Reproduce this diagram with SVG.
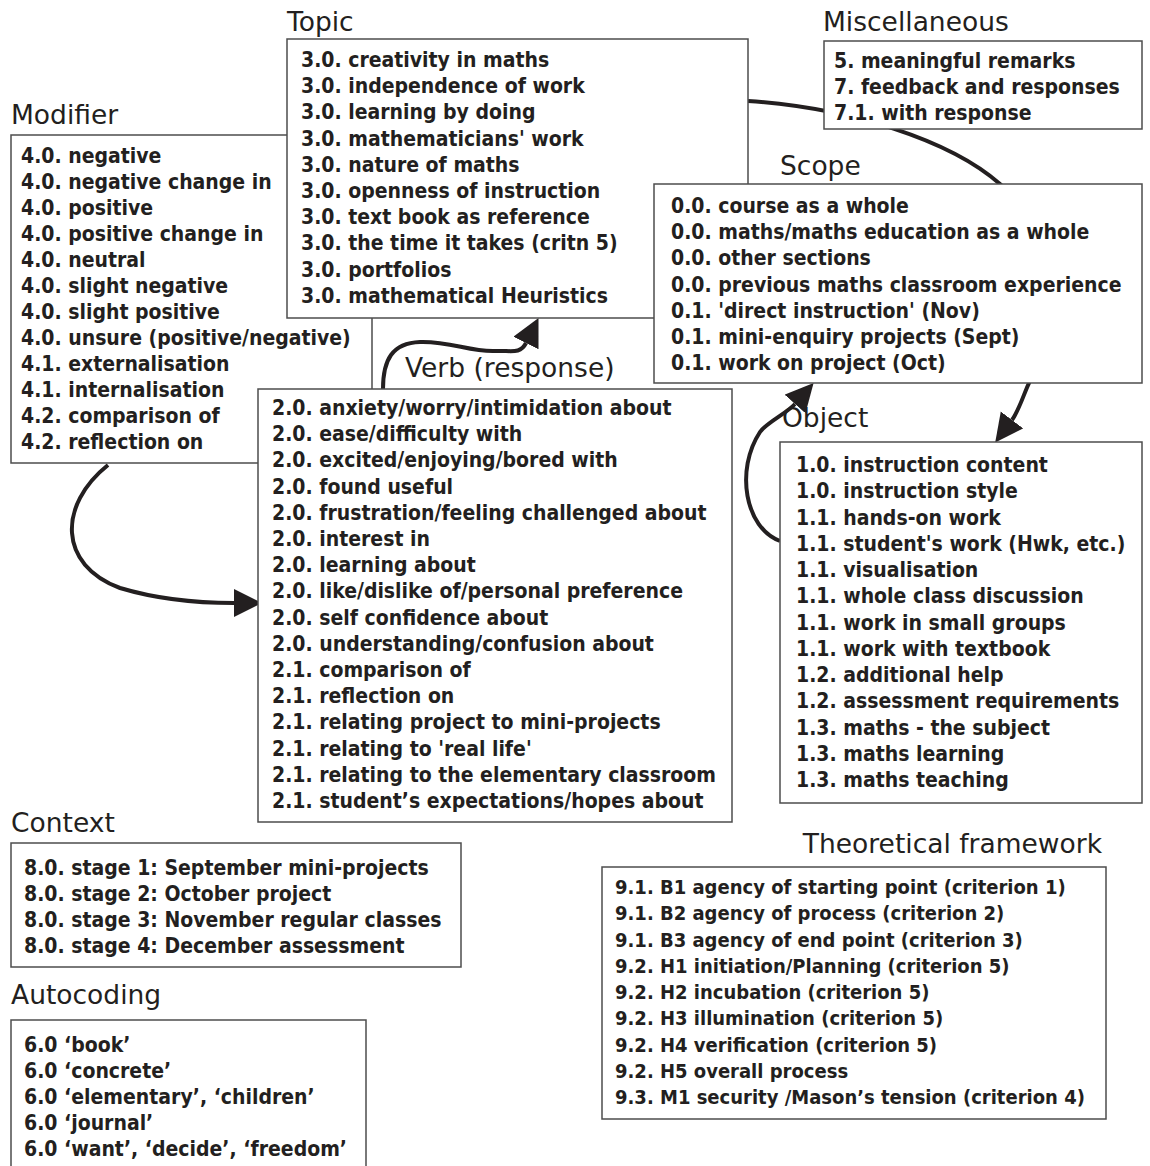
<svg xmlns="http://www.w3.org/2000/svg" width="1150" height="1166" viewBox="0 0 1150 1166">
<defs>
<style>
.box{fill:#fff;stroke:#4d4d4d;stroke-width:1.5}
.lbl{font-family:"DejaVu Sans","Liberation Sans",sans-serif;font-size:26.5px;fill:#231f20}
.items{font-family:"DejaVu Sans Condensed","DejaVu Sans","Liberation Sans",sans-serif;font-stretch:condensed;font-weight:bold;font-size:21px;fill:#231f20}
.small{font-size:20px}
.conn{fill:none;stroke:#231f20;stroke-width:4;stroke-linecap:butt}
</style>
<marker id="ah" markerUnits="userSpaceOnUse" markerWidth="30" markerHeight="30" refX="0" refY="14" orient="auto">
<path d="M0,0 L28,14 L0,28 z" fill="#231f20"/>
</marker>
</defs>
<rect width="1150" height="1166" fill="#fff"/>
<g id="connectors">
<path class="conn" marker-end="url(#ah)" d="M748,101 C850,108 950,140 1000,184 C1050,228 1075,320 1035,372 C1027,382 1021,408 1012,420"/>
<path class="conn" marker-end="url(#ah)" d="M383,389 C383,360 392,343 420,342 C450,341 470,352 495,351 C510,350 520,355 526,343"/>
<path class="conn" marker-end="url(#ah)" d="M108,465 C58,505 58,565 120,588 C160,600 200,603 234,603"/>
<path class="conn" marker-end="url(#ah)" d="M780,541 C745,528 735,470 760,432 C766,423 787,413 795,404"/>
</g>
<g id="modifier">
<text class="lbl" x="11" y="124">Modifier</text>
<rect class="box" x="11" y="135" width="361" height="328"/>
<text class="items" x="21" y="163"><tspan x="21">4.0. negative</tspan><tspan x="21" dy="26">4.0. negative change in</tspan><tspan x="21" dy="26">4.0. positive</tspan><tspan x="21" dy="26">4.0. positive change in</tspan><tspan x="21" dy="26">4.0. neutral</tspan><tspan x="21" dy="26">4.0. slight negative</tspan><tspan x="21" dy="26">4.0. slight positive</tspan><tspan x="21" dy="26">4.0. unsure (positive/negative)</tspan><tspan x="21" dy="26">4.1. externalisation</tspan><tspan x="21" dy="26">4.1. internalisation</tspan><tspan x="21" dy="26">4.2. comparison of</tspan><tspan x="21" dy="26">4.2. reflection on</tspan></text>
</g>
<g id="topic">
<text class="lbl" x="287" y="31">Topic</text>
<rect class="box" x="287" y="39" width="461" height="279"/>
<text class="items" x="301" y="67"><tspan x="301">3.0. creativity in maths</tspan><tspan x="301" dy="26.2">3.0. independence of work</tspan><tspan x="301" dy="26.2">3.0. learning by doing</tspan><tspan x="301" dy="26.2">3.0. mathematicians' work</tspan><tspan x="301" dy="26.2">3.0. nature of maths</tspan><tspan x="301" dy="26.2">3.0. openness of instruction</tspan><tspan x="301" dy="26.2">3.0. text book as reference</tspan><tspan x="301" dy="26.2">3.0. the time it takes (critn 5)</tspan><tspan x="301" dy="26.2">3.0. portfolios</tspan><tspan x="301" dy="26.2">3.0. mathematical Heuristics</tspan></text>
</g>
<g id="verb">
<text class="lbl" x="405" y="377">Verb (response)</text>
<rect class="box" x="258" y="389" width="474" height="433"/>
<text class="items" x="272" y="415"><tspan x="272">2.0. anxiety/worry/intimidation about</tspan><tspan x="272" dy="26.2">2.0. ease/difficulty with</tspan><tspan x="272" dy="26.2">2.0. excited/enjoying/bored with</tspan><tspan x="272" dy="26.2">2.0. found useful</tspan><tspan x="272" dy="26.2">2.0. frustration/feeling challenged about</tspan><tspan x="272" dy="26.2">2.0. interest in</tspan><tspan x="272" dy="26.2">2.0. learning about</tspan><tspan x="272" dy="26.2">2.0. like/dislike of/personal preference</tspan><tspan x="272" dy="26.2">2.0. self confidence about</tspan><tspan x="272" dy="26.2">2.0. understanding/confusion about</tspan><tspan x="272" dy="26.2">2.1. comparison of</tspan><tspan x="272" dy="26.2">2.1. reflection on</tspan><tspan x="272" dy="26.2">2.1. relating project to mini-projects</tspan><tspan x="272" dy="26.2">2.1. relating to 'real life'</tspan><tspan x="272" dy="26.2">2.1. relating to the elementary classroom</tspan><tspan x="272" dy="26.2">2.1. student’s expectations/hopes about</tspan></text>
</g>
<g id="miscellaneous">
<text class="lbl" x="823" y="31">Miscellaneous</text>
<rect class="box" x="824" y="41" width="318" height="88"/>
<text class="items" x="834" y="68"><tspan x="834">5. meaningful remarks</tspan><tspan x="834" dy="26">7. feedback and responses</tspan><tspan x="834" dy="26">7.1. with response</tspan></text>
</g>
<g id="scope">
<text class="lbl" x="780" y="175">Scope</text>
<rect class="box" x="654" y="184" width="488" height="199"/>
<text class="items" x="671" y="213"><tspan x="671">0.0. course as a whole</tspan><tspan x="671" dy="26.17">0.0. maths/maths education as a whole</tspan><tspan x="671" dy="26.17">0.0. other sections</tspan><tspan x="671" dy="26.17">0.0. previous maths classroom experience</tspan><tspan x="671" dy="26.17">0.1. 'direct instruction' (Nov)</tspan><tspan x="671" dy="26.17">0.1. mini-enquiry projects (Sept)</tspan><tspan x="671" dy="26.17">0.1. work on project (Oct)</tspan></text>
</g>
<g id="object">
<text class="lbl" x="782" y="427">Object</text>
<rect class="box" x="780" y="442" width="362" height="361"/>
<text class="items" x="796" y="472"><tspan x="796">1.0. instruction content</tspan><tspan x="796" dy="26.25">1.0. instruction style</tspan><tspan x="796" dy="26.25">1.1. hands-on work</tspan><tspan x="796" dy="26.25">1.1. student's work (Hwk, etc.)</tspan><tspan x="796" dy="26.25">1.1. visualisation</tspan><tspan x="796" dy="26.25">1.1. whole class discussion</tspan><tspan x="796" dy="26.25">1.1. work in small groups</tspan><tspan x="796" dy="26.25">1.1. work with textbook</tspan><tspan x="796" dy="26.25">1.2. additional help</tspan><tspan x="796" dy="26.25">1.2. assessment requirements</tspan><tspan x="796" dy="26.25">1.3. maths - the subject</tspan><tspan x="796" dy="26.25">1.3. maths learning</tspan><tspan x="796" dy="26.25">1.3. maths teaching</tspan></text>
</g>
<g id="context">
<text class="lbl" x="11" y="832">Context</text>
<rect class="box" x="11" y="843" width="450" height="124"/>
<text class="items" x="24" y="875"><tspan x="24">8.0. stage 1: September mini-projects</tspan><tspan x="24" dy="26">8.0. stage 2: October project</tspan><tspan x="24" dy="26">8.0. stage 3: November regular classes</tspan><tspan x="24" dy="26">8.0. stage 4: December assessment</tspan></text>
</g>
<g id="autocoding">
<text class="lbl" x="11" y="1004">Autocoding</text>
<rect class="box" x="11" y="1020" width="355" height="160"/>
<text class="items" x="24" y="1052"><tspan x="24">6.0 ‘book’</tspan><tspan x="24" dy="26">6.0 ‘concrete’</tspan><tspan x="24" dy="26">6.0 ‘elementary’, ‘children’</tspan><tspan x="24" dy="26">6.0 ‘journal’</tspan><tspan x="24" dy="26">6.0 ‘want’, ‘decide’, ‘freedom’</tspan></text>
</g>
<g id="theoretical-framework">
<text class="lbl" x="1102" y="853" text-anchor="end">Theoretical framework</text>
<rect class="box" x="602" y="867" width="504" height="252"/>
<text class="items small" x="615" y="894"><tspan x="615">9.1. B1 agency of starting point (criterion 1)</tspan><tspan x="615" dy="26.25">9.1. B2 agency of process (criterion 2)</tspan><tspan x="615" dy="26.25">9.1. B3 agency of end point (criterion 3)</tspan><tspan x="615" dy="26.25">9.2. H1 initiation/Planning (criterion 5)</tspan><tspan x="615" dy="26.25">9.2. H2 incubation (criterion 5)</tspan><tspan x="615" dy="26.25">9.2. H3 illumination (criterion 5)</tspan><tspan x="615" dy="26.25">9.2. H4 verification (criterion 5)</tspan><tspan x="615" dy="26.25">9.2. H5 overall process</tspan><tspan x="615" dy="26.25">9.3. M1 security /Mason’s tension (criterion 4)</tspan></text>
</g>
</svg>
